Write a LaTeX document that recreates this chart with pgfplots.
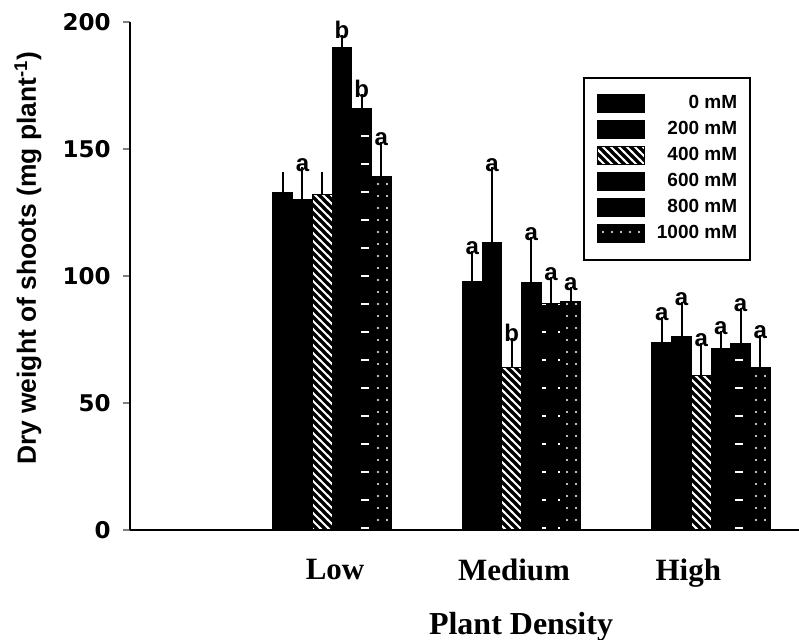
\documentclass[border=0pt]{standalone}
\usepackage{pgfplots}
\pgfplotsset{compat=1.18}
\usepackage{pgfplotstable}
\usetikzlibrary{patterns}
\usepackage{fontspec}
\setmainfont{Liberation Serif}
\setsansfont{Liberation Sans}
\newfontfamily\djv{DejaVu Sans}

% white hatching / dots / dashes laid over black bars
\pgfdeclarepatternformonly{nwl}{\pgfqpoint{-1pt}{-1pt}}{\pgfqpoint{5pt}{5pt}}{\pgfqpoint{4pt}{4pt}}{%
  \pgfsetlinewidth{0.9pt}\pgfpathmoveto{\pgfqpoint{-0.5pt}{4.5pt}}\pgfpathlineto{\pgfqpoint{4.5pt}{-0.5pt}}\pgfusepath{stroke}}
\pgfdeclarepatternformonly{sdots}{\pgfqpoint{-1pt}{-1pt}}{\pgfqpoint{1pt}{1pt}}{\pgfqpoint{4.5pt}{6pt}}{%
  \pgfpathcircle{\pgfqpoint{0pt}{0pt}}{0.55pt}\pgfusepath{fill}}
\pgfdeclarepatternformonly{sdash}{\pgfqpoint{0pt}{-1pt}}{\pgfqpoint{9.85pt}{1pt}}{\pgfqpoint{9.85pt}{14pt}}{%
  \pgfpathrectangle{\pgfqpoint{3pt}{-0.5pt}}{\pgfqpoint{4pt}{1pt}}\pgfusepath{fill}}

% x y err letter
\pgfplotstableread{
x y e lab
1 133 5 {}
2 98 9 a
3 74 7 a
}\tzero
\pgfplotstableread{
x y e lab
1 130 10 a
2 113 27 a
3 76 11 a
}\ttwo
\pgfplotstableread{
x y e lab
1 132 6 {}
2 64 9 b
3 61 10 a
}\tfour
\pgfplotstableread{
x y e lab
1 190 2 b
2 97.5 15 a
3 71.5 4 a
}\tsix
\pgfplotstableread{
x y e lab
1 166 3 b
2 89 8 a
3 73.6 11 a
}\teight
\pgfplotstableread{
x y e lab
1 139 11 a
2 90 3 a
3 64 10 a
}\tthousand

\begin{document}
\begin{tikzpicture}
\begin{axis}[
  at={(65pt,55pt)}, anchor=south west,
  scale only axis, width=334.5pt, height=254pt,
  clip=false,
  axis lines=left,
  axis line style={-, line width=1pt},
  xmin=-0.066, xmax=3.464,
  ymin=0, ymax=200,
  ytick={0,50,100,150,200},
  tick align=outside,
  major tick length=3.5pt,
  ytick style={line width=1pt},
  xtick={1.016,1.96,2.88},
  xticklabels={Low,\raisebox{-2.5pt}{Medium},High},
  xtick style={draw=none},
  /pgf/number format/assume math mode=true,
  yticklabel style={font=\fontsize{11.5}{12}\djv\bfseries, inner sep=0pt, xshift=-6pt},
  xticklabel style={font=\fontsize{15.5}{16}\rmfamily\bfseries, inner sep=0pt, yshift=-11pt},
  ylabel={Dry weight of shoots (mg plant\textsuperscript{-1})},
  every axis y label/.style={at={(axis description cs:-0.1525,0.535)}, rotate=90, anchor=center,
    font=\fontsize{13.2}{14}\sffamily\bfseries},
  xlabel={Plant Density},
  every axis x label/.style={at={(axis description cs:0.5845,0)}, anchor=north, inner sep=0pt,
    yshift=-41pt, font=\fontsize{16}{16}\rmfamily\bfseries},
  ybar=0pt, bar width=9.85pt,
  legend style={at={(rel axis cs:0.677,0.892)}, anchor=north west, draw=black, line width=1pt,
    font=\fontsize{9.5}{9.5}\sffamily\bfseries, row sep=0pt,
    nodes={inner sep=0pt, minimum height=13pt}, inner xsep=6.5pt, inner ysep=6.5pt},
  legend cell align=right,
  /tikz/every odd column/.append style={column sep=6pt},
  every axis plot post/.append style={
    fill=black, draw=black, line width=0.5pt,
    legend image code/.code={\draw[##1, line width=0.5pt] (0pt,-4.5pt) rectangle (23.5pt,4.5pt);},
    error bars/.cd, y dir=plus, y explicit,
      error bar style={line width=1pt, black},
      error mark options={mark size=3.5pt, line width=1pt, black}},
  point meta=explicit symbolic,
  nodes near coords,
  visualization depends on={\thisrow{e} \as \err},
  every node near coord/.append style={anchor=south, inner sep=0.5pt, yshift={1.27pt*\err+0.8pt},
    font=\fontsize{12}{12}\sffamily\bfseries, black},
]
\addplot table[x=x, y=y, y error=e, meta=lab] {\tzero};
\addlegendentry{0 mM}
\addplot table[x=x, y=y, y error=e, meta=lab] {\ttwo};
\addlegendentry{200 mM}
\addplot+[postaction={pattern=nwl, pattern color=white}] table[x=x, y=y, y error=e, meta=lab] {\tfour};
\addlegendentry{400 mM}
\addplot table[x=x, y=y, y error=e, meta=lab] {\tsix};
\addlegendentry{600 mM}
\addplot+[postaction={pattern=sdash, pattern color=white}] table[x=x, y=y, y error=e, meta=lab] {\teight};
\addlegendentry{800 mM}
\addplot+[postaction={pattern=sdots, pattern color=white}] table[x=x, y=y, y error=e, meta=lab] {\tthousand};
\addlegendentry{1000 mM}
\end{axis}
\pgfresetboundingbox
\useasboundingbox (0,0) rectangle (399.5pt,320pt);
\end{tikzpicture}
\end{document}
